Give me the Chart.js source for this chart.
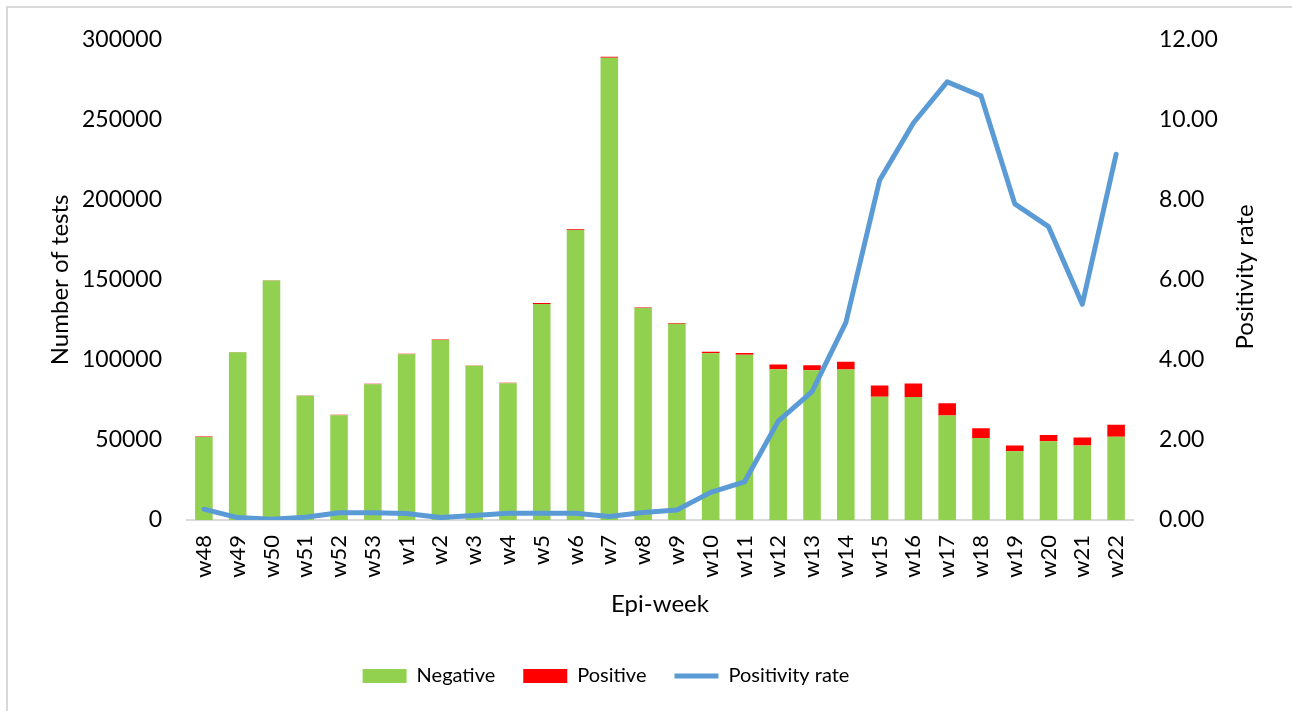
<!DOCTYPE html>
<html>
<head>
<meta charset="utf-8">
<script src="https://cdn.jsdelivr.net/npm/chart.js@4/dist/chart.umd.min.js"></script>
<style>
    body { margin: 0; background: #ffffff; }
    #wrap { position: relative; width: 1292px; height: 711px; overflow: hidden; }
    #frame { position: absolute; left: 6px; top: 6px; width: 1400px; height: 800px; border-left: 2px solid #d9d9d9; border-top: 2px solid #d9d9d9; }
    #myChart { position: absolute; left: 0; top: 0; }
</style>
</head>
<body>
<div id="wrap">
    <div id="frame"></div>
    <canvas id="myChart" width="1292" height="711"></canvas>
</div>
<script>
const weeks = ['w48', 'w49', 'w50', 'w51', 'w52', 'w53', 'w1', 'w2', 'w3', 'w4',
    'w5', 'w6', 'w7', 'w8', 'w9', 'w10', 'w11', 'w12', 'w13', 'w14',
    'w15', 'w16', 'w17', 'w18', 'w19', 'w20', 'w21', 'w22'];

const negative = [51800, 104800, 149600, 77600, 65500, 84800, 103600, 112500, 96300, 85400,
    135000, 181100, 288800, 132400, 122600, 104100, 103300, 94200, 93600, 94000,
    77000, 76800, 65300, 51200, 42900, 49200, 46500, 52000];

const positive = [300, 200, 200, 200, 300, 300, 300, 200, 200, 300,
    500, 600, 600, 400, 400, 1000, 1100, 2900, 3100, 4800,
    7000, 8400, 7700, 6100, 3700, 3900, 5000, 7500];

const positivityRate = [0.27, 0.06, 0.02, 0.07, 0.18, 0.18, 0.16, 0.06, 0.11, 0.17,
    0.17, 0.17, 0.09, 0.19, 0.25, 0.69, 0.95, 2.47, 3.21, 4.93,
    8.49, 9.92, 10.95, 10.60, 7.90, 7.33, 5.39, 9.14];

const leftTicks = [0, 50000, 100000, 150000, 200000, 250000, 300000];

Chart.defaults.font.family = 'Lato';
Chart.defaults.color = '#000000';

// right axis title reads bottom-to-top like the left one
const rightTitle = {
    id: 'rightTitle',
    afterDraw: function (chart) {
        const ctx = chart.ctx;
        const area = chart.chartArea;
        ctx.save();
        ctx.translate(chart.scales.y1.left + 112, (area.top + area.bottom) / 2 - 3);
        ctx.rotate(-Math.PI / 2);
        ctx.font = '24px Lato';
        ctx.fillStyle = '#000000';
        ctx.textAlign = 'center';
        ctx.textBaseline = 'middle';
        ctx.fillText('Positivity rate', 0, 0);
        ctx.restore();
    }
};

// legend sits a bit left of the canvas centre in the original
const legendShift = {
    id: 'legendShift',
    afterLayout: function (chart) {
        chart.legend.left -= 40;
        chart.legend.right -= 40;
    }
};

const data = {
    labels: weeks,
    datasets: [{
        type: 'bar',
        label: 'Negative',
        data: negative,
        backgroundColor: '#92D050',
        borderWidth: 0,
        yAxisID: 'y',
        order: 1
    }, {
        type: 'bar',
        label: 'Positive',
        data: positive,
        backgroundColor: '#FF0000',
        borderWidth: 0,
        yAxisID: 'y',
        order: 1
    }, {
        type: 'line',
        label: 'Positivity rate',
        data: positivityRate,
        borderColor: '#5B9BD5',
        backgroundColor: '#5B9BD5',
        borderWidth: 5,
        borderCapStyle: 'round',
        borderJoinStyle: 'round',
        pointRadius: 0,
        tension: 0,
        yAxisID: 'y1',
        order: 0
    }]
};

const config = {
    type: 'bar',
    data: data,
    plugins: [rightTitle, legendShift],
    options: {
        responsive: false,
        animation: false,
        barPercentage: 0.52,
        categoryPercentage: 1,
        layout: {
            padding: { top: 38, left: 0, right: 0, bottom: 15 }
        },
        plugins: {
            tooltip: { enabled: false },
            legend: {
                position: 'bottom',
                labels: {
                    usePointStyle: true,
                    pointStyleWidth: 44,
                    boxHeight: 14,
                    padding: 28,
                    font: { size: 20 },
                    generateLabels: function (chart) {
                        const items = Chart.defaults.plugins.legend.labels.generateLabels(chart);
                        items.forEach(function (it) {
                            it.pointStyle = chart.data.datasets[it.datasetIndex].type === 'line' ? 'line' : 'rect';
                        });
                        return items.sort(function (a, b) { return a.datasetIndex - b.datasetIndex; });
                    }
                }
            }
        },
        scales: {
            x: {
                stacked: true,
                grid: { display: false, drawTicks: false },
                border: { display: true, color: '#d9d9d9', width: 2 },
                ticks: {
                    autoSkip: false,
                    minRotation: 90,
                    maxRotation: 90,
                    padding: 15,
                    font: { size: 22 }
                },
                title: {
                    display: true,
                    text: 'Epi-week',
                    font: { size: 24 },
                    padding: { top: 0, bottom: 19 }
                },
                afterFit: function (scale) { scale.height = 118; }
            },
            y: {
                stacked: true,
                position: 'left',
                min: 0,
                max: 300000,
                grid: { display: false, drawTicks: false },
                border: { display: false },
                afterBuildTicks: function (scale) {
                    scale.ticks = leftTicks.map(function (v) { return { value: v }; });
                },
                ticks: {
                    padding: 25,
                    font: { size: 23 },
                    callback: function (value) { return String(value); }
                },
                title: {
                    display: true,
                    text: 'Number of tests',
                    font: { size: 24 },
                    padding: { top: 46, bottom: 0 }
                },
                afterFit: function (scale) { scale.width = 187; }
            },
            y1: {
                position: 'right',
                min: 0,
                max: 12,
                grid: { display: false, drawTicks: false },
                border: { display: false },
                ticks: {
                    stepSize: 2,
                    padding: 26,
                    font: { size: 23 },
                    callback: function (value) { return value.toFixed(2); }
                },
                afterFit: function (scale) { scale.width = 159; }
            }
        }
    }
};

const myChart = new Chart(
    document.getElementById('myChart'),
    config
);
</script>
</body>
</html>
